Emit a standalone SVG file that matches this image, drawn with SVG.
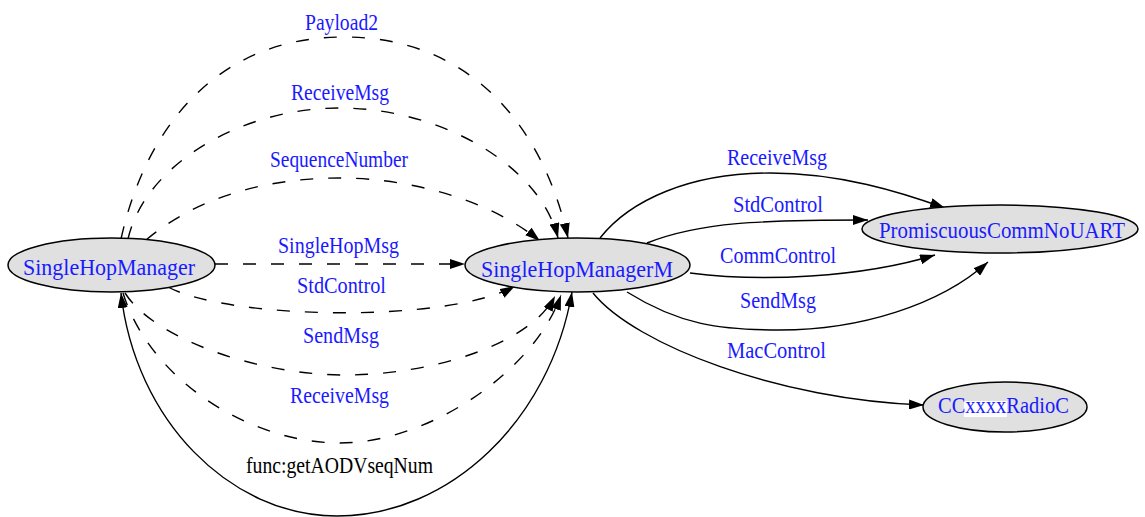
<svg xmlns="http://www.w3.org/2000/svg" width="1145" height="517" viewBox="0 0 1145 517">
  <defs>
    <marker id="arrow" viewBox="0 0 15 10" refX="15" refY="5" markerWidth="15" markerHeight="10" markerUnits="userSpaceOnUse" orient="auto-start-reverse">
      <path d="M0,0 L15,5 L0,10 z" fill="#000"/>
    </marker>
    <style>
      .node ellipse { fill: #e0e0e0; stroke: #000; stroke-width: 1.5; }
      .lbl { font-family: "Liberation Serif", "Times New Roman", serif; font-size: 24px; fill: #1a1aff; }
      .lbl.black { fill: #000; }
      .edge path { fill: none; stroke: #000; stroke-width: 1.4; marker-end: url(#arrow); }
      .edge.dashed path { stroke-dasharray: 13 15; }
    </style>
  </defs>
  <rect width="1145" height="517" fill="#fff"/>

  <g id="edges">
    <!-- SingleHopManager -> SingleHopManagerM (dashed wires) -->
    <g class="edge dashed" id="e-payload2">
      <path d="M121,239 C145,130 215,37 344,37 C473,37 544,130 568,238"/>
      <text class="lbl" x="305" y="30" textLength="73" lengthAdjust="spacingAndGlyphs">Payload2</text>
    </g>
    <g class="edge dashed" id="e-receivemsg-top">
      <path d="M128,239 C145,165 240,108 340,108 C440,108 540,165 558,238"/>
      <text class="lbl" x="291" y="100" textLength="98" lengthAdjust="spacingAndGlyphs">ReceiveMsg</text>
    </g>
    <g class="edge dashed" id="e-seqnum">
      <path d="M146,240 C200,195 270,178 340,178 C410,178 490,200 540,241"/>
      <text class="lbl" x="270" y="167" textLength="138" lengthAdjust="spacingAndGlyphs">SequenceNumber</text>
    </g>
    <g class="edge dashed" id="e-singlehopmsg">
      <path d="M215,264 L465,264"/>
      <text class="lbl" x="278" y="253" textLength="121" lengthAdjust="spacingAndGlyphs">SingleHopMsg</text>
    </g>
    <g class="edge dashed" id="e-stdcontrol-left">
      <path d="M168,287 C230,320 450,323 515,286"/>
      <text class="lbl" x="297" y="293" textLength="89" lengthAdjust="spacingAndGlyphs">StdControl</text>
    </g>
    <g class="edge dashed" id="e-sendmsg-left">
      <path d="M125,293 C155,340 260,375 345,375 C430,375 530,345 555,296"/>
      <text class="lbl" x="303" y="343" textLength="76" lengthAdjust="spacingAndGlyphs">SendMsg</text>
    </g>
    <g class="edge dashed" id="e-receivemsg-bottom">
      <path d="M123,293 C150,380 250,443 340,443 C430,443 535,370 561,295"/>
      <text class="lbl" x="290" y="403" textLength="99" lengthAdjust="spacingAndGlyphs">ReceiveMsg</text>
    </g>
    <!-- bidirectional function call -->
    <g class="edge" id="e-func">
      <path d="M121,293 C135,420 230,516 337,516 C450,516 550,420 572,292" style="marker-start:url(#arrow)"/>
      <text class="lbl black" x="246" y="473" textLength="187" lengthAdjust="spacingAndGlyphs">func:getAODVseqNum</text>
    </g>

    <!-- SingleHopManagerM -> PromiscuousCommNoUART / CCxxxxRadioC -->
    <g class="edge" id="e-receivemsg-right">
      <path d="M600,238 C630,200 690,173 770,173 C840,173 900,192 945,208"/>
      <text class="lbl" x="727" y="165" textLength="100" lengthAdjust="spacingAndGlyphs">ReceiveMsg</text>
    </g>
    <g class="edge" id="e-stdcontrol-right">
      <path d="M647,243 C700,222 760,220 868,220"/>
      <text class="lbl" x="733" y="212" textLength="90" lengthAdjust="spacingAndGlyphs">StdControl</text>
    </g>
    <g class="edge" id="e-commcontrol">
      <path d="M690,273 C760,282 860,278 935,255"/>
      <text class="lbl" x="720" y="263" textLength="116" lengthAdjust="spacingAndGlyphs">CommControl</text>
    </g>
    <g class="edge" id="e-sendmsg-right">
      <path d="M627,292 C680,325 720,330 780,330 C860,330 940,305 988,262"/>
      <text class="lbl" x="740" y="308" textLength="76" lengthAdjust="spacingAndGlyphs">SendMsg</text>
    </g>
    <g class="edge" id="e-maccontrol">
      <path d="M593,293 C635,345 780,400 924,405"/>
      <text class="lbl" x="727" y="358" textLength="99" lengthAdjust="spacingAndGlyphs">MacControl</text>
    </g>
  </g>

  <g id="node-SingleHopManager" class="node">
    <ellipse cx="111.5" cy="265" rx="103.5" ry="27"/>
    <text class="lbl" x="23" y="275" textLength="172" lengthAdjust="spacingAndGlyphs">SingleHopManager</text>
  </g>
  <g id="node-SingleHopManagerM" class="node">
    <ellipse cx="577.5" cy="265" rx="112.5" ry="27"/>
    <text class="lbl" x="481" y="277" textLength="192" lengthAdjust="spacingAndGlyphs">SingleHopManagerM</text>
  </g>
  <g id="node-PromiscuousCommNoUART" class="node">
    <ellipse cx="1000" cy="229" rx="138" ry="24"/>
    <text class="lbl" x="879" y="238" textLength="246" lengthAdjust="spacingAndGlyphs">PromiscuousCommNoUART</text>
  </g>
  <g id="node-CCxxxxRadioC" class="node">
    <ellipse cx="1005" cy="407" rx="82" ry="25"/>
    <rect x="964" y="401" width="43" height="16" fill="#fff"/>
    <text class="lbl" x="938" y="413" textLength="131" lengthAdjust="spacingAndGlyphs">CCxxxxRadioC</text>
  </g>
</svg>
